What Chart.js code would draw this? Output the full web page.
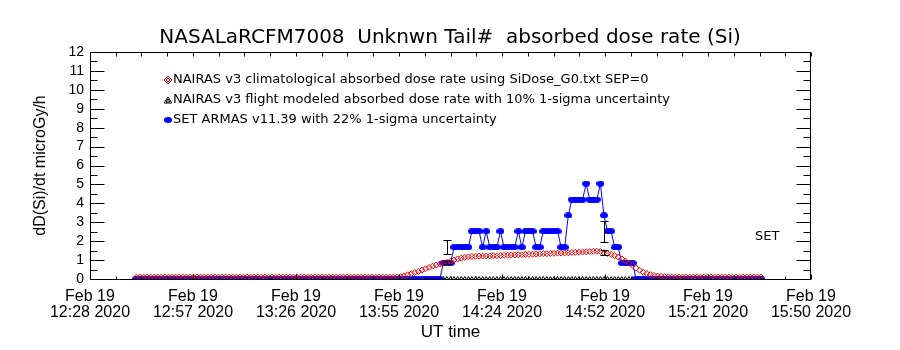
<!DOCTYPE html>
<html>
<head>
<meta charset="utf-8">
<script src="https://cdn.jsdelivr.net/npm/chart.js@4.4.1/dist/chart.umd.min.js"></script>
<style>
html,body{margin:0;padding:0;background:#fff;}
#wrap{width:900px;height:350px;}
</style>
</head>
<body>
<div id="wrap"><canvas id="c" width="900" height="350"></canvas></div>
<script>
// ---------------- data ----------------
const titleText = 'NASALaRCFM7008  Unknwn Tail#  absorbed dose rate (Si)';
const yTitle = 'dD(Si)/dt microGy/h';
const xTitle = 'UT time';
// x axis: minutes after 12:28 UT
const xTickMinutes = [0, 28.857, 57.714, 86.571, 115.429, 144.286, 173.143, 202];
const xTickDates = ['Feb 19','Feb 19','Feb 19','Feb 19','Feb 19','Feb 19','Feb 19','Feb 19'];
const xTickTimes = ['12:28 2020','12:57 2020','13:26 2020','13:55 2020','14:24 2020','14:52 2020','15:21 2020','15:50 2020'];
const legendLabels = [
  'NAIRAS v3 climatological absorbed dose rate using SiDose_G0.txt SEP=0',
  'NAIRAS v3 flight modeled absorbed dose rate with 10% 1-sigma uncertainty',
  'SET ARMAS v11.39 with 22% 1-sigma uncertainty'
];
const sampleMinutes = [
 13,14,15,16,17,18,19,20,21,22,23,24,25,26,27,28,29,30,31,32,33,34,35,36,37,38,39,40,41,42,43,44,45,46,47,48,49,50,
 51,52,53,54,55,56,57,58,59,60,61,62,63,64,65,66,67,68,69,70,71,72,73,74,75,76,77,78,79,80,81,82,83,84,85,86,
 87,88,89,90,91,92,93,94,95,96,97,98,99,100,101,102,103,104,105,106,107,108,
 109,110,111,112,113,114,115,116,117,118,119,120,121,122,123,124,125,
 126,127,128,129,130,131,132,133,134,135,136,137,138,139,140,141,142,
 143,144,145,146,147,148,149,150,151,152,153,154,155,156,157,158,159,160,161,162,
 163,164,165,166,167,168,169,170,171,172,173,174,175,176,177,178,179,180,181,182,183,184,185,186,187,188
];
const nairasClim = [
 0.1,0.1,0.1,0.1,0.1,0.1,0.1,0.1,0.1,0.1,0.1,0.1,0.1,0.1,0.1,0.1,0.1,0.1,0.1,0.1,0.1,0.1,0.1,0.1,0.1,0.1,0.1,0.1,0.1,0.1,0.1,0.1,0.1,0.1,0.1,0.1,0.1,0.1,
 0.1,0.1,0.1,0.1,0.1,0.1,0.1,0.1,0.1,0.1,0.1,0.1,0.1,0.1,0.1,0.1,0.1,0.1,0.1,0.1,0.1,0.1,0.1,0.1,0.1,0.1,0.1,0.1,0.1,0.1,0.1,0.1,0.1,0.1,0.1,0.1,
 0.12,0.17,0.22,0.28,0.34,0.40,0.47,0.54,0.61,0.68,0.74,0.79,0.84,0.88,0.94,1.00,1.06,1.10,1.14,1.17,1.19,1.20,
 1.21,1.21,1.22,1.22,1.23,1.23,1.24,1.25,1.26,1.27,1.27,1.28,1.29,1.30,1.30,1.31,1.32,
 1.33,1.34,1.34,1.35,1.36,1.37,1.37,1.38,1.39,1.40,1.41,1.42,1.43,1.44,1.45,1.46,1.47,
 1.45,1.39,1.35,1.30,1.24,1.16,1.06,0.95,0.84,0.72,0.58,0.46,0.36,0.29,0.23,0.19,0.16,0.14,0.12,0.11,
 0.1,0.1,0.1,0.1,0.1,0.1,0.1,0.1,0.1,0.1,0.1,0.1,0.1,0.1,0.1,0.1,0.1,0.1,0.1,0.1,0.1,0.1,0.1,0.1,0.1,0.1
];
const nairasFlight = [
 0,0,0,0,0,0,0,0,0,0,0,0,0,0,0,0,0,0,0,0,0,0,0,0,0,0,0,0,0,0,0,0,0,0,0,0,0,0,
 0,0,0,0,0,0,0,0,0,0,0,0,0,0,0,0,0,0,0,0,0,0,0,0,0,0,0,0,0,0,0,0,0,0,0,0,0,0,
 0,0,0,0,0,0,0,0,0,0,0,0,0,0,0,0,0,0,0,0,0,0,
 0,0,0,0,0,0,0,0,0,0,0,0,0,0,0,0,0,
 0,0,0,0,0,0,0,0,0,0,0,0,0,0,0,0,0,
 0,0,0,0,0,0,0,0,0,0,0,0,0,0,0,0,0,0,0,0,
 0,0,0,0,0,0,0,0,0,0,0,0,0,0,0,0,0,0,0,0,0,0,0,0,0,0
];
const setArmas = [
 0,0,0,0,0,0,0,0,0,0,0,0,0,0,0,0,0,0,0,0,0,0,0,0,0,0,0,0,0,0,0,0,0,0,0,0,0,0,
 0,0,0,0,0,0,0,0,0,0,0,0,0,0,0,0,0,0,0,0,0,0,0,0,0,0,0,0,0,0,0,0,0,0,0,0,0,0,
 0,0,0,0,0,0,0,0,0,0,0.84,0.84,0.84,1.68,1.68,1.68,1.68,1.68,2.52,2.52,2.52,1.68,
 2.52,1.68,1.68,1.68,2.52,1.68,1.68,1.68,1.68,2.52,1.68,2.52,2.52,2.52,1.68,1.68,2.52,
 2.52,2.52,2.52,2.52,1.68,1.68,3.36,4.2,4.2,4.2,4.2,5.04,4.2,4.2,4.2,5.04,3.36,
 2.52,2.52,1.68,1.68,0.84,0.84,0.84,0.84,0,0,0,0,0,0,0,0,0,0,0,0,
 0,0,0,0,0,0,0,0,0,0,0,0,0,0,0,0,0,0,0,0,0,0,0,0,0,0
];
// error bars
const errMinutes = [100, 144];
const setErrCenter = [1.68, 2.52];
const setErrFrac = 0.22;
const nairasErrCenter = [0.88, 1.39];
const nairasErrFrac = 0.10;
const annotationText = 'SET';

// ---------------- styling ----------------
const RED = 'rgb(230,0,0)';
const BLUE = 'rgb(0,0,255)';
function ellipseCanvas(w, h, color) {
  const c = document.createElement('canvas');
  c.width = w; c.height = h;
  const g = c.getContext('2d');
  g.fillStyle = color;
  g.beginPath();
  g.ellipse(w / 2, h / 2, w / 2, h / 2, 0, 0, Math.PI * 2);
  g.fill();
  return c;
}
const blueDot = ellipseCanvas(8, 6, BLUE);

const toXY = (vals) => vals.map((v, i) => ({x: sampleMinutes[i], y: v}));

const overlay = {
  id: 'overlay',
  afterDraw(chart) {
    const {ctx, chartArea: a} = chart;
    const xs = chart.scales.x, ys = chart.scales.y;
    const L = Math.round(a.left) + 0.5, R = Math.round(a.right) - 0.5;
    const T = Math.round(a.top) + 0.5, B = Math.round(a.bottom) + 0.5;
    ctx.save();
    ctx.strokeStyle = '#000';
    ctx.lineWidth = 1;
    ctx.beginPath();
    ctx.moveTo(L, T); ctx.lineTo(R, T); ctx.lineTo(R, B); ctx.lineTo(L, B); ctx.closePath();
    ys.ticks.forEach((t, i) => {
      const p = Math.round(ys.getPixelForValue(t.value)) + 0.5;
      ctx.moveTo(L, p); ctx.lineTo(L + 14, p);
      ctx.moveTo(R, p); ctx.lineTo(R - 14, p);
      if (i < ys.ticks.length - 1) {
        const pm = Math.round(ys.getPixelForValue((t.value + ys.ticks[i + 1].value) / 2)) + 0.5;
        ctx.moveTo(L, pm); ctx.lineTo(L + 7, pm);
        ctx.moveTo(R, pm); ctx.lineTo(R - 7, pm);
      }
    });
    xs.ticks.forEach((t, i) => {
      const p = Math.round(xs.getPixelForValue(t.value)) + 0.5;
      ctx.moveTo(p, B); ctx.lineTo(p, B - 5);
      ctx.moveTo(p, T); ctx.lineTo(p, T + 4);
      if (i < xs.ticks.length - 1) {
        for (let k = 1; k < 4; k++) {
          const v = t.value + (xs.ticks[i + 1].value - t.value) * k / 4;
          const pm = Math.round(xs.getPixelForValue(v)) + 0.5;
          ctx.moveTo(pm, B); ctx.lineTo(pm, B - 3);
          ctx.moveTo(pm, T); ctx.lineTo(pm, T + 4);
        }
      }
    });
    ctx.stroke();

    // error bars
    ctx.beginPath();
    const cap = 4;
    const bar = (m, c, f) => {
      const px = Math.round(xs.getPixelForValue(m)) + 0.5;
      const y1 = Math.round(ys.getPixelForValue(c * (1 + f))) + 0.5;
      const y2 = Math.round(ys.getPixelForValue(c * (1 - f))) + 0.5;
      ctx.moveTo(px, y1); ctx.lineTo(px, y2);
      ctx.moveTo(px - cap, y1); ctx.lineTo(px + cap, y1);
      ctx.moveTo(px - cap, y2); ctx.lineTo(px + cap, y2);
    };
    errMinutes.forEach((m, i) => {
      bar(m, setErrCenter[i], setErrFrac);
      bar(m, nairasErrCenter[i], nairasErrFrac);
    });
    ctx.stroke();

    // legend
    const lx = a.left + 78, tx = a.left + 83;
    const ly = [a.top + 28, a.top + 48, a.top + 68];
    ctx.font = '13px "DejaVu Sans"';
    ctx.fillStyle = '#000';
    ctx.textBaseline = 'middle';
    ctx.textAlign = 'left';
    legendLabels.forEach((s, i) => ctx.fillText(s, tx, ly[i]));
    // red diamond
    ctx.strokeStyle = RED;
    ctx.lineWidth = 1;
    ctx.beginPath();
    ctx.moveTo(lx - 4, ly[0]); ctx.lineTo(lx, ly[0] - 4); ctx.lineTo(lx + 4, ly[0]); ctx.lineTo(lx, ly[0] + 4); ctx.closePath();
    ctx.moveTo(lx - 2, ly[0]); ctx.lineTo(lx, ly[0] - 2); ctx.lineTo(lx + 2, ly[0]); ctx.lineTo(lx, ly[0] + 2); ctx.closePath();
    ctx.stroke();
    // black triangle
    ctx.strokeStyle = '#000';
    ctx.beginPath();
    ctx.moveTo(lx - 4, ly[1] + 3); ctx.lineTo(lx, ly[1] - 3); ctx.lineTo(lx + 4, ly[1] + 3); ctx.closePath();
    ctx.moveTo(lx - 2, ly[1] + 2); ctx.lineTo(lx, ly[1] - 1); ctx.lineTo(lx + 2, ly[1] + 2); ctx.closePath();
    ctx.stroke();
    // blue dot
    ctx.drawImage(blueDot, lx - 4, ly[2] - 3);

    // SET annotation
    ctx.fillStyle = '#000';
    ctx.font = '13px "DejaVu Sans"';
    ctx.fillText(annotationText, a.right - 56, ys.getPixelForValue(2.23));
    ctx.restore();
  }
};

const tickFont = {family: '"Liberation Sans", Arial, sans-serif', size: 16, lineHeight: 1.0};

new Chart(document.getElementById('c'), {
  type: 'line',
  data: {
    datasets: [
      {
        label: legendLabels[0],
        data: toXY(nairasClim),
        showLine: false,
        pointStyle: 'rectRot',
        pointRadius: 3,
        pointBorderWidth: 1,
        pointBorderColor: RED,
        pointBackgroundColor: 'rgba(0,0,0,0)',
        borderColor: RED,
        order: 0
      },
      {
        label: legendLabels[1],
        data: toXY(nairasFlight),
        showLine: false,
        pointStyle: 'triangle',
        pointRadius: 2.5,
        pointBorderWidth: 1,
        pointBorderColor: '#000',
        pointBackgroundColor: 'rgba(0,0,0,0)',
        borderColor: '#000',
        order: 2
      },
      {
        label: legendLabels[2],
        data: toXY(setArmas),
        showLine: true,
        borderColor: BLUE,
        borderWidth: 1,
        pointStyle: blueDot,
        pointRadius: 3,
        tension: 0,
        fill: false,
        order: 1
      }
    ]
  },
  options: {
    responsive: false,
    animation: false,
    devicePixelRatio: 1,
    layout: {padding: 0},
    plugins: {
      legend: {display: false},
      tooltip: {enabled: false},
      title: {
        display: true,
        text: titleText,
        color: '#000',
        font: {family: '"DejaVu Sans"', size: 20, weight: 'normal', lineHeight: 1.2},
        padding: {top: 26, bottom: 2}
      }
    },
    scales: {
      x: {
        type: 'linear',
        min: 0,
        max: 202,
        grid: {display: false, drawTicks: false},
        border: {display: false},
        afterBuildTicks: (s) => { s.ticks = xTickMinutes.map(v => ({value: v})); },
        afterFit: (s) => { s.height = 71; },
        ticks: {
          autoSkip: false,
          maxRotation: 0,
          padding: 10,
          color: '#000',
          font: tickFont,
          callback: (v, i) => [xTickDates[i], xTickTimes[i]]
        },
        title: {
          display: true,
          text: xTitle,
          color: '#000',
          font: {family: '"Liberation Sans", Arial, sans-serif', size: 17, lineHeight: 1.2},
          padding: {top: 0, bottom: 7}
        }
      },
      y: {
        type: 'linear',
        position: 'left',
        min: 0,
        max: 12,
        grid: {display: false, drawTicks: false},
        border: {display: false},
        afterFit: (s) => { s.width = 90; },
        ticks: {
          stepSize: 1,
          autoSkip: false,
          padding: 6,
          color: '#000',
          font: {family: '"Liberation Sans", Arial, sans-serif', size: 14}
        },
        title: {
          display: true,
          text: yTitle,
          color: '#000',
          font: {family: '"Liberation Sans", Arial, sans-serif', size: 16, lineHeight: 1.2},
          padding: {top: 31, bottom: 0}
        }
      },
      yRight: {
        type: 'linear',
        position: 'right',
        min: 0,
        max: 12,
        display: true,
        grid: {display: false, drawTicks: false},
        border: {display: false},
        ticks: {display: false},
        afterFit: (s) => { s.width = 89; }
      }
    }
  },
  plugins: [overlay]
});
</script>
</body>
</html>
